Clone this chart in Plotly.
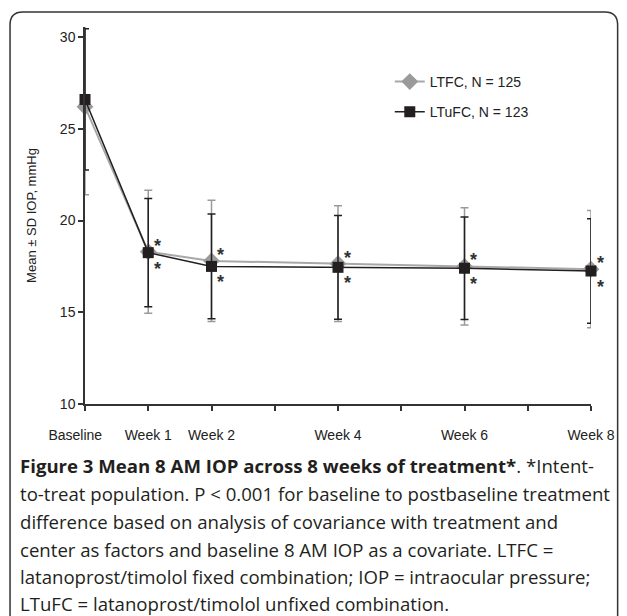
import plotly.graph_objects as go

# ---- data ----
weeks = [0, 1, 2, 4, 6, 8]
tick_vals = [0, 1, 2, 3, 4, 5, 6, 7, 8]
tick_text = ["Baseline" + "\u00a0" * 5, "Week 1", "Week 2", "", "Week 4", "", "Week 6", "", "Week 8"]
y_ticks = [10, 15, 20, 25, 30]

ltfc_mean = [26.2, 18.3, 17.8, 17.65, 17.5, 17.35]
ltfc_sd = [4.8, 3.35, 3.3, 3.15, 3.2, 3.2]
ltufc_mean = [26.6, 18.25, 17.5, 17.45, 17.4, 17.25]
ltufc_sd = [3.85, 2.95, 2.85, 2.83, 2.8, 2.85]

ltfc_name = "LTFC, N = 125"
ltufc_name = "LTuFC, N = 123"
y_title = "Mean ± SD IOP, mmHg"

caption_lines = [
    "<b>Figure 3 Mean 8 AM IOP across 8 weeks of treatment*</b>. *Intent-",
    "to-treat population. P &lt; 0.001 for baseline to postbaseline treatment",
    "difference based on analysis of covariance with treatment and",
    "center as factors and baseline 8 AM IOP as a covariate. LTFC =",
    "latanoprost/timolol fixed combination; IOP = intraocular pressure;",
    "LTuFC = latanoprost/timolol unfixed combination.",
]
caption_py = [465, 493, 521, 549, 576, 603]

# ---- geometry ----
W, H = 627, 616
ML, MR, MT, MB = 85, 29, 27, 212
PW, PH = W - ML - MR, H - MT - MB


def px2x(px):
    return (px - ML) / PW


def py2y(py):
    return (H - MB - py) / PH


GRAY = "#9a9a9a"
BLACK = "#231f20"
CHART_FONT = "Liberation Sans, Arial, sans-serif"

fig = go.Figure()

fig.add_trace(go.Scatter(
    x=weeks, y=ltfc_mean, name=ltfc_name, mode="lines+markers",
    line=dict(color="#a8a8a8", width=2),
    marker=dict(symbol="diamond", size=13, color=GRAY),
    error_y=dict(type="data", array=ltfc_sd, color=GRAY, thickness=1.5, width=4),
    cliponaxis=False, legendgroup="a",
))
fig.add_trace(go.Scatter(
    x=weeks, y=ltufc_mean, name=ltufc_name, mode="lines+markers",
    line=dict(color=BLACK, width=1.5),
    marker=dict(symbol="square", size=11, color=BLACK),
    error_y=dict(type="data", array=ltufc_sd, color=BLACK, thickness=1.5, width=4),
    cliponaxis=False, legendgroup="b",
))

annotations = []
for i in range(1, len(weeks)):
    annotations.append(dict(x=weeks[i], y=ltfc_mean[i], xref="x", yref="y", text="<b>*</b>",
                            showarrow=False, xshift=9, yshift=6,
                            font=dict(family=CHART_FONT, size=18, color="#333")))
    annotations.append(dict(x=weeks[i], y=ltufc_mean[i], xref="x", yref="y", text="<b>*</b>",
                            showarrow=False, xshift=9, yshift=-16,
                            font=dict(family=CHART_FONT, size=18, color="#333")))

for line, py in zip(caption_lines, caption_py):
    annotations.append(dict(x=px2x(17), y=py2y(py), xref="paper", yref="paper",
                            xanchor="left", yanchor="middle", text=line, showarrow=False,
                            font=dict(family="Open Sans, sans-serif", size=18.6, color="#231f20")))

# rounded panel border
L, T, R, B = 9, 12, 625, 640
r = 13
path = (f"M {px2x(L)},{py2y(B)} L {px2x(L)},{py2y(T + r)} "
        f"Q {px2x(L)},{py2y(T)} {px2x(L + r)},{py2y(T)} "
        f"L {px2x(R - r)},{py2y(T)} Q {px2x(R)},{py2y(T)} {px2x(R)},{py2y(T + r)} "
        f"L {px2x(R)},{py2y(B)}")

fig.update_layout(
    width=W, height=H,
    margin=dict(l=ML, r=MR, t=MT, b=MB),
    paper_bgcolor="white", plot_bgcolor="white",
    font=dict(family=CHART_FONT, color="#222"),
    showlegend=True,
    legend=dict(x=px2x(394), y=py2y(66), xanchor="left", yanchor="top",
                bgcolor="rgba(0,0,0,0)", font=dict(size=14, color="#222"),
                tracegroupgap=9, itemwidth=30),
    annotations=annotations,
    shapes=[dict(type="path", xref="paper", yref="paper", path=path,
                 line=dict(color="#333", width=1.5), layer="above")],
    xaxis=dict(range=[0, 8], tickmode="array", tickvals=tick_vals, ticktext=tick_text,
               showgrid=False, zeroline=False, showline=True, linecolor="#333", linewidth=1.5,
               ticks="outside", ticklen=5, tickcolor="#333", tickwidth=1.5,
               tickfont=dict(size=14), ticklabelstandoff=12, tickangle=0),
    yaxis=dict(range=[10, 30.55], tickvals=y_ticks, showgrid=False, zeroline=False,
               showline=True, linecolor="#333", linewidth=1.5,
               ticks="outside", ticklen=5, tickcolor="#333", tickwidth=1.5,
               tickfont=dict(size=14),
               title=dict(text=y_title, font=dict(size=13), standoff=20)),
)

fig.write_html("out.html", config={"displayModeBar": False},
               post_script="document.body.style.margin='0px';")
